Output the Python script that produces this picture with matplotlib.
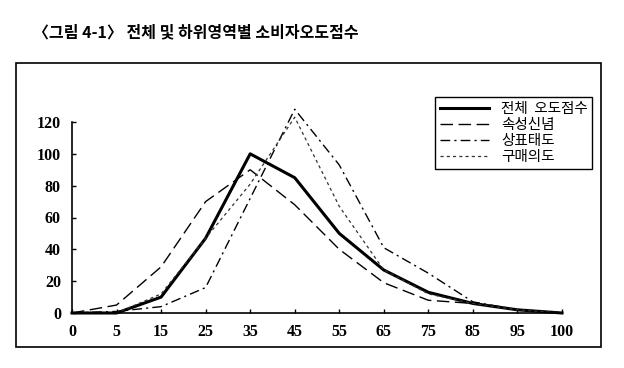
import matplotlib.pyplot as plt
from matplotlib.patches import Rectangle

# score bins on the x axis (equally spaced categories)
score_bins = ["0", "5", "15", "25", "35", "45", "55", "65", "75", "85", "95", "100"]

total_score = [0, 0, 10, 47, 100, 85, 50, 27, 13, 6, 2, 0]      # 전체 오도점수
attr_belief = [0, 5, 29, 70, 90, 68, 40, 19, 8, 6, 2, 0]         # 속성신념
brand_attitude = [0, 1, 4, 16, 72, 128, 93, 41, 25, 7, 2, 0]     # 상표태도
purchase_intent = [0, 0, 12, 47, 81, 123, 67, 27, 12, 6, 2, 0]   # 구매의도

series_labels = ["전체  오도점수", "속성신념", "상표태도", "구매의도"]
y_ticks = [0, 20, 40, 60, 80, 100, 120]

title = "〈그림 4-1〉 전체 및 하위영역별 소비자오도점수"

plt.rcParams['font.family'] = ['Noto Sans CJK KR', 'DejaVu Sans']

fig = plt.figure(figsize=(6.24, 3.68), dpi=100)
ax = fig.add_axes([72 / 624, 1 - 313 / 368, 490 / 624, 191 / 368])

x = list(range(len(score_bins)))
ax.plot(x, total_score, color="black", lw=2.2, clip_on=False, label=series_labels[0])
ax.plot(x, attr_belief, color="black", lw=1.0, dashes=(9, 4), clip_on=False, label=series_labels[1])
ax.plot(x, brand_attitude, color="black", lw=1.0, dashes=(7, 3, 1.5, 3), clip_on=False, label=series_labels[2])
ax.plot(x, purchase_intent, color="#333333", lw=0.9, dashes=(2.5, 2.5), clip_on=False, label=series_labels[3])

ax.set_xlim(0, len(score_bins) - 1)
ax.set_ylim(0, 120)
ax.set_xticks(x)
ax.set_xticklabels(score_bins)
ax.set_yticks(y_ticks)
for s in ["top", "right"]:
    ax.spines[s].set_visible(False)
for s in ["left", "bottom"]:
    ax.spines[s].set_linewidth(1.2)
ax.tick_params(direction="in", length=3, width=1, pad=8)
for lab in ax.get_xticklabels() + ax.get_yticklabels():
    lab.set_family("Liberation Serif")
    lab.set_fontweight("bold")
    lab.set_fontsize(11.5)

leg = ax.legend(loc="upper left", bbox_to_anchor=(428 / 624, 1 - 90 / 368),
                bbox_transform=fig.transFigure, fontsize=10.5, handlelength=3.4,
                handletextpad=0.8, labelspacing=0.15, borderpad=0.3,
                fancybox=False, framealpha=1, edgecolor="black")
leg.get_frame().set_linewidth(1.0)

# outer frame of the figure box
fig.patches.append(Rectangle((16 / 624, 1 - 347 / 368), 585 / 624, 284 / 368,
                             transform=fig.transFigure, fill=False,
                             edgecolor="black", lw=1.2))

fig.text(33 / 624, 1 - 32 / 368, title, fontsize=11.5, fontweight="bold",
         va="center", ha="left")

fig.savefig("out.png", dpi=100)
